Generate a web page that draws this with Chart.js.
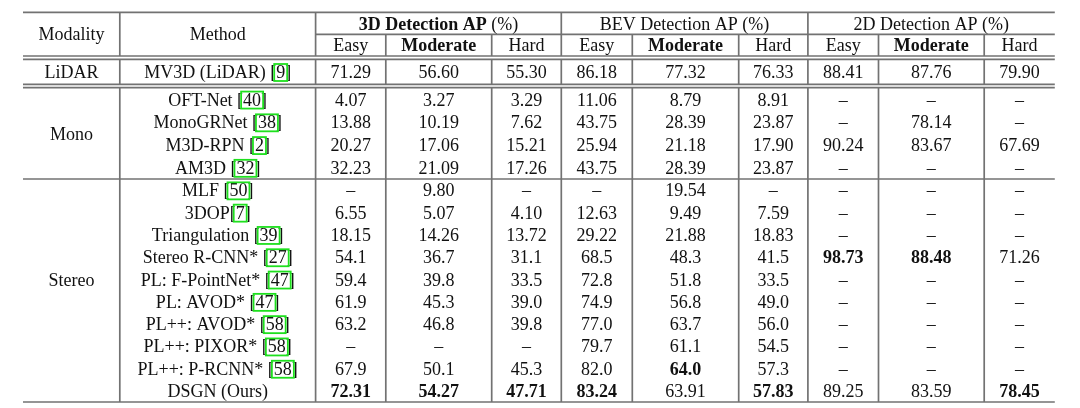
<!DOCTYPE html>
<html>
<head>
<meta charset="utf-8">
<script src="https://cdn.jsdelivr.net/npm/chart.js@4.4.1/dist/chart.umd.min.js"></script>
<style>
  html, body { margin: 0; padding: 0; background: #fff; }
  #wrap { width: 1080px; height: 408px; }
</style>
</head>
<body>
<div id="wrap"><canvas id="table" width="1080" height="408"></canvas></div>
<script>
// ---- table data ----
var modalities = ['LiDAR', 'Mono', 'Stereo'];
var modalityRows = [1, 4, 10];
var modalityLabelRow = [0, 1.5, 4];   // row (inside block) the multirow label sits on
var methods = [
  'MV3D (LiDAR) [9]',
  'OFT-Net [40]', 'MonoGRNet [38]', 'M3D-RPN [2]', 'AM3D [32]',
  'MLF [50]', '3DOP[7]', 'Triangulation [39]', 'Stereo R-CNN* [27]', 'PL: F-PointNet* [47]',
  'PL: AVOD* [47]', 'PL++: AVOD* [58]', 'PL++: PIXOR* [58]', 'PL++: P-RCNN* [58]', 'DSGN (Ours)'
];
var groups = ['3D Detection AP', 'BEV Detection AP', '2D Detection AP'];
var boldGroup = [true, false, false];
var levels = ['Easy', 'Moderate', 'Hard'];

var ap3d = [
  ['71.29', '56.60', '55.30'],
  ['4.07', '3.27', '3.29'],
  ['13.88', '10.19', '7.62'],
  ['20.27', '17.06', '15.21'],
  ['32.23', '21.09', '17.26'],
  ['–', '9.80', '–'],
  ['6.55', '5.07', '4.10'],
  ['18.15', '14.26', '13.72'],
  ['54.1', '36.7', '31.1'],
  ['59.4', '39.8', '33.5'],
  ['61.9', '45.3', '39.0'],
  ['63.2', '46.8', '39.8'],
  ['–', '–', '–'],
  ['67.9', '50.1', '45.3'],
  ['72.31', '54.27', '47.71']
];
var apBev = [
  ['86.18', '77.32', '76.33'],
  ['11.06', '8.79', '8.91'],
  ['43.75', '28.39', '23.87'],
  ['25.94', '21.18', '17.90'],
  ['43.75', '28.39', '23.87'],
  ['–', '19.54', '–'],
  ['12.63', '9.49', '7.59'],
  ['29.22', '21.88', '18.83'],
  ['68.5', '48.3', '41.5'],
  ['72.8', '51.8', '33.5'],
  ['74.9', '56.8', '49.0'],
  ['77.0', '63.7', '56.0'],
  ['79.7', '61.1', '54.5'],
  ['82.0', '64.0', '57.3'],
  ['83.24', '63.91', '57.83']
];
var ap2d = [
  ['88.41', '87.76', '79.90'],
  ['–', '–', '–'],
  ['–', '78.14', '–'],
  ['90.24', '83.67', '67.69'],
  ['–', '–', '–'],
  ['–', '–', '–'],
  ['–', '–', '–'],
  ['–', '–', '–'],
  ['98.73', '88.48', '71.26'],
  ['–', '–', '–'],
  ['–', '–', '–'],
  ['–', '–', '–'],
  ['–', '–', '–'],
  ['–', '–', '–'],
  ['89.25', '83.59', '78.45']
];
// best results (row, metric column 0..8) printed in bold
var best = [[8, 6], [8, 7], [13, 4], [14, 0], [14, 1], [14, 2], [14, 3], [14, 5], [14, 8]];

// ---- layout (table units = px of the 1080x408 frame) ----
var colEdges = [23, 119.8, 315.6, 385.8, 491.7, 561.3, 632.3, 738.7, 807.9, 878.5, 984.2, 1054.8];
var headerEdges = [12.3, 34.3, 56];
var bandEdges = [[59.3, 84.3], [88, 179], [179, 402]];
var doubleGap = 3.3;
var FONT = '"Liberation Serif", "Times New Roman", serif';
var FS = 18;

function isBest(r, c) {
  return best.some(function (b) { return b[0] === r && b[1] === c; });
}
function colCenter(i) { return (colEdges[i] + colEdges[i + 1]) / 2; }

// build the cells as points
var cells = [];
var rowY = [];
modalities.forEach(function (m, g) {
  var top = bandEdges[g][0], bot = bandEdges[g][1];
  var h = (bot - top) / modalityRows[g];
  for (var k = 0; k < modalityRows[g]; k++) rowY.push(top + h * (k + 0.5));
  cells.push({ x: colCenter(0), y: top + h * (modalityLabelRow[g] + 0.5), t: m });
});
methods.forEach(function (m, i) {
  cells.push({ x: colCenter(1), y: rowY[i], t: m, cite: true });
});
[ap3d, apBev, ap2d].forEach(function (tbl, g) {
  tbl.forEach(function (row, i) {
    row.forEach(function (v, j) {
      var c = g * 3 + j;
      cells.push({ x: colCenter(2 + c), y: rowY[i], t: v, b: isBest(i, c) });
    });
  });
});
var hMid = (headerEdges[0] + headerEdges[2]) / 2;
cells.push({ x: colCenter(0), y: hMid, t: 'Modality' });
cells.push({ x: colCenter(1), y: hMid, t: 'Method' });
groups.forEach(function (gname, g) {
  var cx = (colEdges[2 + g * 3] + colEdges[5 + g * 3]) / 2;
  cells.push({ x: cx, y: (headerEdges[0] + headerEdges[1]) / 2, t: gname, b: boldGroup[g], pct: true });
  levels.forEach(function (l, j) {
    cells.push({ x: colCenter(2 + g * 3 + j), y: (headerEdges[1] + headerEdges[2]) / 2, t: l, b: l === 'Moderate' });
  });
});

var tablePlugin = {
  id: 'tableDraw',
  afterDatasetsDraw: function (chart) {
    var ctx = chart.ctx, xs = chart.scales.x, ys = chart.scales.y;
    var X = function (v) { return xs.getPixelForValue(v); };
    var Y = function (v) { return ys.getPixelForValue(v); };
    ctx.save();
    // rules
    ctx.strokeStyle = '#727272';
    ctx.lineWidth = 1.7;
    function hl(x1, x2, y) { ctx.beginPath(); ctx.moveTo(X(x1), Y(y)); ctx.lineTo(X(x2), Y(y)); ctx.stroke(); }
    function vl(x, y1, y2) { ctx.beginPath(); ctx.moveTo(X(x), Y(y1)); ctx.lineTo(X(x), Y(y2)); ctx.stroke(); }
    var L = colEdges[0], R = colEdges[colEdges.length - 1];
    hl(L, R, headerEdges[0]);
    hl(colEdges[2], R, headerEdges[1]);
    hl(L, R, headerEdges[2]);
    hl(L, R, headerEdges[2] + doubleGap);
    hl(L, R, bandEdges[0][1]);
    hl(L, R, bandEdges[0][1] + doubleGap);
    hl(L, R, bandEdges[1][1]);
    hl(L, R, bandEdges[2][1]);
    // vertical lines in header
    [1, 2, 5, 8].forEach(function (i) { vl(colEdges[i], headerEdges[0], headerEdges[2]); });
    [3, 4, 6, 7, 9, 10].forEach(function (i) { vl(colEdges[i], headerEdges[1], headerEdges[2]); });
    // vertical lines in body bands
    bandEdges.forEach(function (b) {
      for (var i = 1; i < colEdges.length - 1; i++) vl(colEdges[i], b[0], b[1]);
    });

    // text
    ctx.fillStyle = '#111111';
    ctx.textBaseline = 'alphabetic';
    chart.data.datasets[0].data.forEach(function (d) {
      var px = X(d.x), py = Y(d.y) + 6.2;
      var bf = (d.b ? 'bold ' : '') + FS + 'px ' + FONT;
      var nf = FS + 'px ' + FONT;
      if (d.pct) {
        var t1 = d.t, t2 = ' (%)';
        ctx.font = bf; var w1 = ctx.measureText(t1).width;
        ctx.font = nf; var w2 = ctx.measureText(t2).width;
        var sx = px - (w1 + w2) / 2;
        ctx.textAlign = 'left';
        ctx.font = bf; ctx.fillText(t1, sx, py);
        ctx.font = nf; ctx.fillText(t2, sx + w1, py);
        return;
      }
      ctx.font = bf;
      ctx.textAlign = 'center';
      ctx.fillText(d.t, px, py);
      if (d.cite) {
        var m = d.t.match(/\[(\d+)\]$/);
        if (m) {
          var full = ctx.measureText(d.t).width;
          var pre = ctx.measureText(d.t.slice(0, d.t.length - m[0].length + 1)).width;
          var num = ctx.measureText(m[1]).width;
          var sx2 = px - full / 2 + pre;
          ctx.save();
          ctx.strokeStyle = '#1ee01e';
          ctx.lineWidth = 1.8;
          ctx.strokeRect(sx2 - 2, py - 14, num + 4, 17);
          ctx.restore();
        }
      }
    });
    ctx.restore();
  }
};

new Chart(document.getElementById('table'), {
  type: 'scatter',
  data: {
    datasets: [{ data: cells, pointRadius: 0, pointHoverRadius: 0 }]
  },
  options: {
    responsive: false,
    animation: false,
    layout: { padding: 0 },
    plugins: { legend: { display: false }, tooltip: { enabled: false } },
    scales: {
      x: { type: 'linear', min: 0, max: 1080, display: false },
      y: { type: 'linear', min: 0, max: 408, reverse: true, display: false }
    }
  },
  plugins: [tablePlugin]
});
</script>
</body>
</html>
